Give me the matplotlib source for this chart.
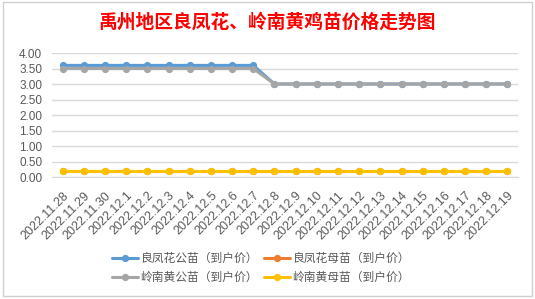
import matplotlib
matplotlib.use("Agg")
import matplotlib.pyplot as plt
from matplotlib.patches import Rectangle

plt.rcParams['font.family'] = ['Noto Sans CJK SC', 'DejaVu Sans']

dates = ["2022.11.28", "2022.11.29", "2022.11.30", "2022.12.1", "2022.12.2", "2022.12.3",
         "2022.12.4", "2022.12.5", "2022.12.6", "2022.12.7", "2022.12.8", "2022.12.9",
         "2022.12.10", "2022.12.11", "2022.12.12", "2022.12.13", "2022.12.14", "2022.12.15",
         "2022.12.16", "2022.12.17", "2022.12.18", "2022.12.19"]
lfh_male = [3.6] * 10 + [3.0] * 12
lfh_female = [0.2] * 22
ln_male = [3.5] * 10 + [3.0] * 12
ln_female = [0.2] * 22
series_names = ["良凤花公苗（到户价）", "良凤花母苗（到户价）", "岭南黄公苗（到户价）", "岭南黄母苗（到户价）"]
colors = ["#5B9BD5", "#ED7D31", "#A5A5A5", "#FFC000"]
title = "禹州地区良凤花、岭南黄鸡苗价格走势图"
yticks = [0.0, 0.5, 1.0, 1.5, 2.0, 2.5, 3.0, 3.5, 4.0]

W, H = 535, 299
fig = plt.figure(figsize=(W / 100, H / 100), dpi=100)
fig.patch.set_facecolor("white")
fig.patches.append(Rectangle((3 / W, 1 - 296 / H), 529 / W, 294 / H, transform=fig.transFigure,
                             fill=False, edgecolor="#D0D0D0", linewidth=1))

ax = fig.add_axes([52 / W, 1 - 177 / H, (518 - 52) / W, (177 - 53) / H])
x = list(range(len(dates)))
handles = []
for vals, name, c in zip([lfh_male, lfh_female, ln_male, ln_female], series_names, colors):
    h, = ax.plot(x, vals, color=c, linewidth=2.2, marker="o", markersize=5.2,
                 markeredgewidth=0, label=name, solid_capstyle="round")
    handles.append(h)

ax.set_xlim(-0.5, len(dates) - 0.5)
ax.set_ylim(0, 4)
ax.set_yticks(yticks)
ax.set_yticklabels([f"{v:.2f}" for v in yticks], fontsize=8.5, color="#595959",
                   family=['Liberation Sans', 'DejaVu Sans'])
ax.set_xticks(x)
ax.set_xticklabels(dates, rotation=45, ha="right", rotation_mode="anchor", fontsize=9,
                   color="#595959", family=['Liberation Sans', 'DejaVu Sans'])
ax.tick_params(axis="both", length=0)
ax.tick_params(axis="x", pad=9)
ax.tick_params(axis="y", pad=7)
ax.grid(axis="y", color="#D9D9D9", linewidth=1)
for s in ["top", "right", "left"]:
    ax.spines[s].set_visible(False)
ax.spines["bottom"].set_color("#D9D9D9")
ax.set_axisbelow(True)

fig.text(0.5, 1 - 22 / H, title, ha="center", va="center", fontsize=13.5, fontweight="bold",
         color="#FF0000")

order = [0, 2, 1, 3]
fig.legend([handles[i] for i in order], [series_names[i] for i in order], ncol=2,
           loc="center", bbox_to_anchor=(261 / W, 1 - 268 / H), frameon=False,
           fontsize=8.5, labelcolor="#595959", handlelength=2.2, columnspacing=0.5,
           handletextpad=0.2, labelspacing=0.55, borderpad=0)

fig.savefig("out.png", dpi=100, facecolor="white")
